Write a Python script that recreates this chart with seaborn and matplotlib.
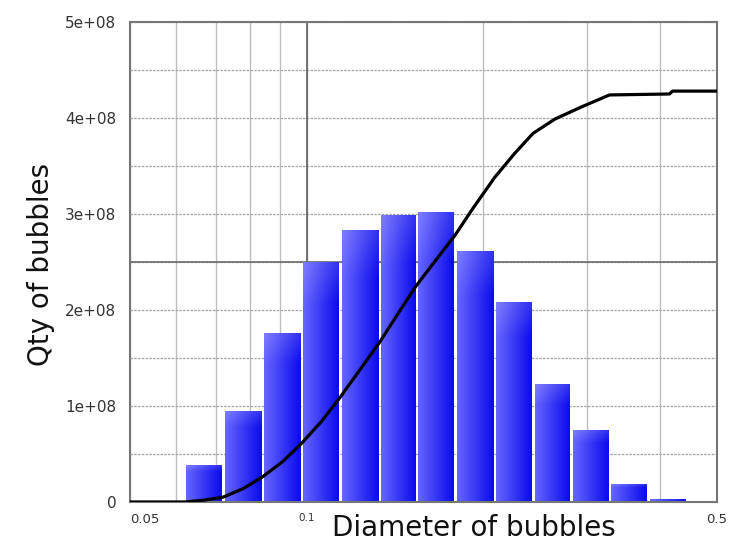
import numpy as np
import pandas as pd
import matplotlib
matplotlib.use("Agg")
import matplotlib.pyplot as plt
import seaborn as sns
from matplotlib.ticker import FixedLocator, MultipleLocator, NullFormatter, FuncFormatter

# histogram bins (bubble diameter) and bubble counts per bin
bin_edges = [0.062, 0.072, 0.084, 0.098, 0.114, 0.133, 0.154, 0.179,
             0.209, 0.243, 0.282, 0.328, 0.382, 0.444]
qty = [0.38e8, 0.94e8, 1.76e8, 2.50e8, 2.83e8, 2.98e8, 3.02e8,
       2.61e8, 2.08e8, 1.22e8, 0.74e8, 0.18e8, 0.03e8]

# cumulative curve
cum_d = [0.05, 0.062, 0.067, 0.072, 0.078, 0.084, 0.091, 0.098, 0.106,
         0.114, 0.123, 0.133, 0.143, 0.154, 0.166, 0.179, 0.192, 0.209,
         0.226, 0.243, 0.265, 0.295, 0.328, 0.415, 0.42, 0.5]
cum_q = [0, 0, 0.02e8, 0.05e8, 0.14e8, 0.26e8, 0.42e8, 0.61e8, 0.84e8,
         1.09e8, 1.37e8, 1.66e8, 1.96e8, 2.26e8, 2.52e8, 2.78e8, 3.06e8, 3.38e8,
         3.63e8, 3.84e8, 3.99e8, 4.12e8, 4.24e8, 4.25e8, 4.28e8, 4.28e8]

xticks = [0.05, 0.1, 0.5]
xtick_labels = ["0.05", "0.1", "0.5"]
x_minor = [0.06, 0.07, 0.08, 0.09, 0.2, 0.3, 0.4]

sns.set_style("white")
plt.rcParams["font.family"] = ["DejaVu Sans"]

edges = np.array(bin_edges)
df = pd.DataFrame({"diameter": np.sqrt(edges[:-1] * edges[1:]), "qty": qty})

fig = plt.figure(figsize=(7.4, 5.47), dpi=100)
ax = fig.add_axes([0.1757, 0.0823, 0.7932, 0.8775])

sns.histplot(data=df, x="diameter", weights="qty", bins=bin_edges, shrink=0.92,
             color="#1010ee", alpha=1, linewidth=0, ax=ax, zorder=2)
sns.lineplot(x=cum_d, y=cum_q, color="black", linewidth=2.3, ax=ax, zorder=5)

ax.set_xscale("log")
ax.set_xlim(0.05, 0.5)
ax.set_ylim(0, 5e8)

# gradient fill on each bar (lighter on the left)
light = np.array([0.40, 0.40, 1.0])
dark = np.array([0.04, 0.04, 0.93])
t = np.linspace(0, 1, 64)
row = light[None, :] * (1 - t[:, None]) + dark[None, :] * t[:, None]
grad = np.repeat(row[None, :, :], 32, axis=0)
vt = np.linspace(0, 1, 32)[:, None, None]
grad = grad + (1 - grad) * 0.15 * np.clip(1 - vt * 6, 0, 1)

ax.set_autoscale_on(False)
to_axes = ax.transData + ax.transAxes.inverted()
for p in list(ax.patches):
    x0, w, h = p.get_x(), p.get_width(), p.get_height()
    (a0, b0), (a1, b1) = to_axes.transform([[x0, 0], [x0 + w, h]])
    ax.imshow(grad, extent=[a0, a1, b0, b1], transform=ax.transAxes,
              aspect="auto", interpolation="bilinear", zorder=2)
    p.set_visible(False)
ax.set_xlim(0.05, 0.5)
ax.set_ylim(0, 5e8)

# ticks and grid
ax.set_xticks(xticks)
ax.set_xticklabels(xtick_labels)
ax.xaxis.set_minor_locator(FixedLocator(x_minor))
ax.xaxis.set_minor_formatter(NullFormatter())
ax.yaxis.set_major_locator(MultipleLocator(1e8))
ax.yaxis.set_minor_locator(MultipleLocator(0.5e8))
ax.yaxis.set_major_formatter(FuncFormatter(lambda v, _: "0" if v == 0 else f"{v:.0e}"))

ax.grid(which="both", axis="x", color="#bdbdbd", linewidth=1.0, zorder=0)
ax.grid(which="both", axis="y", color="#a4a4a4", linewidth=0.9,
        linestyle=(0, (2, 1)), zorder=0)
ax.axvline(0.1, color="#5e5e5e", linewidth=1.2, zorder=1)
ax.axhline(2.5e8, color="#6a6a6a", linewidth=1.2, zorder=1)
ax.set_axisbelow(True)

ax.tick_params(axis="y", which="both", length=0, pad=10, labelsize=11,
               labelcolor="#333333")
ax.tick_params(axis="x", which="both", length=0, pad=8, labelsize=9.5,
               labelcolor="#333333")
xl = ax.get_xticklabels()
xl[0].set_horizontalalignment("left")
xl[1].set_fontsize(7.5)

for s in ax.spines.values():
    s.set_color("#777777")
    s.set_linewidth(1.5)

ax.set_xlabel("Diameter of bubbles", fontsize=20, color="#111111")
ax.set_ylabel("Qty of bubbles", fontsize=20, color="#111111")
ax.xaxis.set_label_coords(0.586, -0.026)
ax.yaxis.set_label_coords(-0.128, 0.494)

fig.savefig("out.png", dpi=100)
